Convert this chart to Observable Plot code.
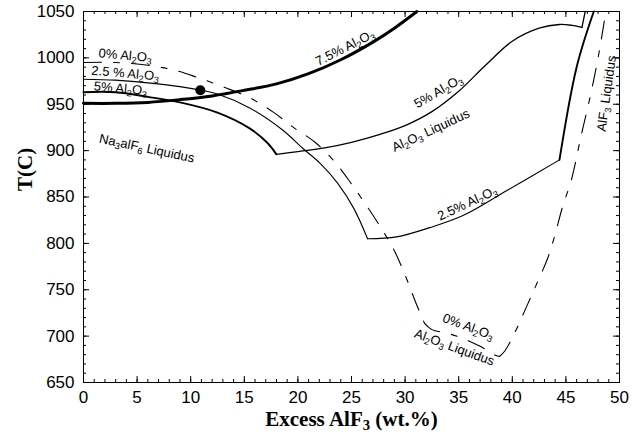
<!DOCTYPE html>
<html>
<head>
<meta charset="utf-8">
<script src="https://cdn.jsdelivr.net/npm/d3@7"></script>
<script src="https://cdn.jsdelivr.net/npm/@observablehq/plot@0.6"></script>
<style>
  html, body { margin: 0; padding: 0; background: #fff; }
</style>
</head>
<body>
<div id="chart"></div>
<script>
// ---------- data (x = excess AlF3 wt.%, T = temperature °C) ----------
const xMajor = [0, 5, 10, 15, 20, 25, 30, 35, 40, 45, 50];
const yMajor = [650, 700, 750, 800, 850, 900, 950, 1000, 1050];
const xMinor = d3.range(0, 51, 1);
const yMinor = d3.range(650, 1051, 10);

// 7.5% Al2O3 (Na3AlF6 liquidus)
const liq75 = [[0,951],[3,951],[6,952],[9,955],[12,959],[15,965],[18,972],[21,983],[24,998],[27,1017],[29,1032],[31.1,1050]];

// 5% Al2O3
const na3alf6_5 = [[0,963],[3,963],[6,958],[9,952],[12.5,941],[15.5,924],[17.1,909],[18,896]];
const al2o3_5 = [[18,896],[20,899],[22.5,903],[25,909],[27.5,917],[30,927],[32.5,942],[35,964],[37.5,992],[40,1018],[42.5,1032],[44.4,1036],[45.6,1035],[46.5,1033]];
const alf3_5 = [[46.5,1033],[46.8,1050]];

// 2.5% Al2O3
const na3alf6_25 = [[0,977],[3,976],[6,973],[9,969],[11,965],[12.5,961],[15.5,946],[18.6,922],[20.5,902],[22.1,886],[23.7,865],[25.2,838],[26.5,805]];
const al2o3_25 = [[26.5,805],[29.2,807],[32.3,817],[35.4,830],[39.5,857],[44.4,890]];
const alf3_25 = [[44.4,890],[46,990],[47.6,1050]];

// 0% Al2O3 (dashed)
const na3alf6_0 = [[0,995],[3,995],[6,992],[8.4,987],[10.6,979],[13.2,968],[15.5,957],[17.7,941.5],[19.7,924],[21.6,909],[23.5,887],[25,864],[26.5,839],[27.9,814],[29,792],[30.1,763],[31,736],[31.8,714]];
const al2o3_0 = [[31.8,714],[32.5,707],[34,703],[35.5,697],[37,689],[38.3,680],[38.8,678]];
const alf3_0 = [[38.8,678],[39.3,684],[40.2,703],[41.3,731],[42.3,757],[43.3,784],[44,810],[44.7,840],[45.5,868],[46.4,915],[47.3,960],[48,1000],[48.6,1041],[48.7,1050]];

// measured point
const point = [[10.9, 965]];

// curve annotations
const labelText = ["0% Al₂O₃", "2.5 % Al₂O₃", "5% Al₂O₃", "7.5% Al₂O₃", "5% Al₂O₃", "Al₂O₃ Liquidus",
                   "Na₃alF₆ Liquidus", "2.5% Al₂O₃", "0% Al₂O₃", "Al₂O₃ Liquidus", "AlF₃ Liquidus"];
const labelX = [3.9, 3.9, 3.45, 24.4, 33.1, 32.4, 5.9, 35.8, 35.9, 34.6, 48.8];
const labelT = [1002.6, 983.2, 967, 1011, 963.7, 921.7, 902.3, 843, 710, 687.7, 961.6];
const labelAngle = [5, 5, 5, -27, -30, -25, 12, -25, 20, 20, -82];
const labels = labelText.map((t, i) => ({text: t, x: labelX[i], T: labelT[i], r: labelAngle[i]}));

// ---------- layout ----------
const W = 640, H = 442, mL = 83, mR = 21, mT = 11, mB = 60;
const FW = W - mL - mR, FH = H - mT - mB;
const X0 = 0, X1 = 50, Y0 = 650, Y1 = 1050;
// tick lengths expressed in data units (pixels -> data)
const tx = px => px * (X1 - X0) / FW;
const ty = px => px * (Y1 - Y0) / FH;

const curveLine = (data, opts) => Plot.line(data, {x: d => d[0], y: d => d[1], curve: "catmull-rom", stroke: "black", ...opts});
const dashPattern = "18,12,6,12";

const tickMarks = (len, xs, ys) => [
  Plot.ruleX(xs, {x: d => d, y1: Y0, y2: Y0 + ty(len), stroke: "black", strokeWidth: 1}),
  Plot.ruleX(xs, {x: d => d, y1: Y1 - ty(len), y2: Y1, stroke: "black", strokeWidth: 1}),
  Plot.ruleY(ys, {y: d => d, x1: X0, x2: X0 + tx(len), stroke: "black", strokeWidth: 1}),
  Plot.ruleY(ys, {y: d => d, x1: X1 - tx(len), x2: X1, stroke: "black", strokeWidth: 1})
];

const chart = Plot.plot({
  width: W, height: H,
  marginLeft: mL, marginRight: mR, marginTop: mT, marginBottom: mB,
  style: {fontFamily: "'Liberation Sans', Arial, sans-serif", fontSize: "17px", background: "white", color: "black", overflow: "visible"},
  x: {domain: [X0, X1], ticks: xMajor, tickSize: 0, tickPadding: 8, tickFormat: d => String(d), label: null},
  y: {domain: [Y0, Y1], ticks: yMajor, tickSize: 0, tickPadding: 9, tickFormat: d => String(d), label: null},
  marks: [
    // curves
    curveLine(liq75, {strokeWidth: 3}),
    curveLine(na3alf6_5, {strokeWidth: 1.9}),
    curveLine(al2o3_5, {strokeWidth: 1.3}),
    curveLine(alf3_5, {strokeWidth: 1.3}),
    curveLine(na3alf6_25, {strokeWidth: 1.1}),
    curveLine(al2o3_25, {strokeWidth: 1.1}),
    curveLine(alf3_25, {strokeWidth: 1.9}),
    curveLine(na3alf6_0, {strokeWidth: 1.1, strokeDasharray: dashPattern}),
    curveLine(al2o3_0, {strokeWidth: 1.1, strokeDasharray: dashPattern}),
    curveLine(alf3_0, {strokeWidth: 1.1, strokeDasharray: dashPattern}),

    Plot.dot(point, {x: d => d[0], y: d => d[1], r: 5, fill: "black", stroke: "none"}),

    Plot.text(labels, {x: "x", y: "T", text: "text", rotate: "r", fontSize: 13, fill: "black",
                       fontFamily: "'Liberation Sans', Arial, sans-serif"}),

    // axis titles
    Plot.text(["Excess AlF₃ (wt.%)"], {frameAnchor: "bottom", dy: 43, fontSize: 21, fontWeight: "bold",
                       fontFamily: "'Liberation Serif', 'Times New Roman', serif", fill: "black"}),
    Plot.text(["T(C)"], {frameAnchor: "left", dx: -58, dy: -6, rotate: -90, fontSize: 21, fontWeight: "bold",
                       fontFamily: "'Liberation Serif', 'Times New Roman', serif", fill: "black"}),

    // minor and major ticks, inward on all four sides
    ...tickMarks(3, xMinor, yMinor),
    ...tickMarks(6, xMajor, yMajor),
    Plot.frame({stroke: "black", strokeWidth: 1})
  ]
});

// turn Unicode subscript digits into real subscripts
const subRe = /[₀-₉]/;
const toDigit = c => String.fromCharCode(c.charCodeAt(0) - 0x2080 + 48);
d3.select(chart).selectAll("text").each(function () {
  const el = this;
  const s = el.textContent;
  if (!subRe.test(s)) return;
  const runs = [];
  for (const ch of s) {
    const sub = subRe.test(ch);
    const c = sub ? toDigit(ch) : ch;
    if (runs.length && runs[runs.length - 1].sub === sub) runs[runs.length - 1].t += c;
    else runs.push({sub, t: c});
  }
  while (el.firstChild) el.removeChild(el.firstChild);
  let prevSub = false;
  runs.forEach((r) => {
    const ts = document.createElementNS("http://www.w3.org/2000/svg", "tspan");
    ts.textContent = r.t;
    if (r.sub) {
      ts.setAttribute("style", "font-size:70%");
      ts.setAttribute("dy", "0.3em");
    } else if (prevSub) {
      ts.setAttribute("dy", "-0.21em");
    }
    prevSub = r.sub;
    el.appendChild(ts);
  });
});

document.getElementById("chart").appendChild(chart);
</script>
</body>
</html>
